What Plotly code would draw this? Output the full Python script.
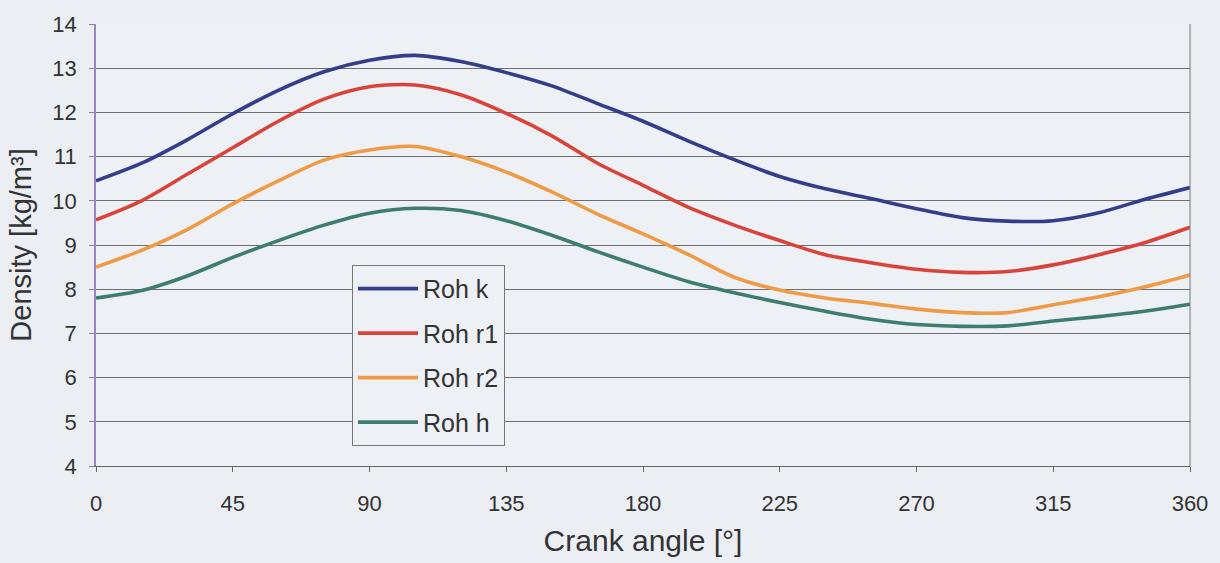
import plotly.graph_objects as go

# Crank angle samples (degrees)
crank_angle = [0, 15, 30, 45, 60, 75, 90, 105, 120, 135, 150, 165, 180,
               195, 210, 225, 240, 255, 270, 285, 300, 315, 330, 345, 360]

# Densities in kg/m³ for each working space
roh_k = [10.45, 10.85, 11.38, 11.97, 12.50, 12.92, 13.18, 13.29, 13.15, 12.90,
         12.60, 12.20, 11.80, 11.35, 10.93, 10.55, 10.27, 10.05, 9.82, 9.62,
         9.54, 9.55, 9.73, 10.03, 10.30]
roh_r1 = [9.57, 10.00, 10.60, 11.20, 11.80, 12.30, 12.58, 12.62, 12.40, 11.98,
          11.47, 10.85, 10.35, 9.85, 9.45, 9.10, 8.78, 8.60, 8.45, 8.38,
          8.40, 8.55, 8.78, 9.05, 9.40]
roh_r2 = [8.50, 8.88, 9.35, 9.93, 10.45, 10.92, 11.15, 11.23, 11.00, 10.65,
          10.20, 9.70, 9.25, 8.78, 8.27, 7.98, 7.80, 7.68, 7.55, 7.47,
          7.47, 7.65, 7.83, 8.05, 8.32]
roh_h = [7.80, 7.97, 8.30, 8.72, 9.10, 9.45, 9.72, 9.83, 9.78, 9.55,
         9.22, 8.85, 8.50, 8.17, 7.92, 7.70, 7.50, 7.32, 7.20, 7.16,
         7.17, 7.28, 7.38, 7.50, 7.66]

series = [
    ("Roh k", roh_k, "#333d8a"),
    ("Roh r1", roh_r1, "#d9433a"),
    ("Roh r2", roh_r2, "#ef9a45"),
    ("Roh h", roh_h, "#3e7b70"),
]

x_ticks = [0, 45, 90, 135, 180, 225, 270, 315, 360]
y_ticks = [4, 5, 6, 7, 8, 9, 10, 11, 12, 13, 14]

fig = go.Figure()
for name, values, color in series:
    fig.add_trace(go.Scatter(
        x=crank_angle, y=values, name=name, mode="lines", legendgroup=name,
        line=dict(color=color, width=3.6, shape="spline", smoothing=0.8),
    ))

font_family = "Liberation Sans, Arial, sans-serif"

fig.update_layout(
    width=1220, height=563,
    margin=dict(l=96, r=29, t=20, b=97),
    paper_bgcolor="#ebeef3",
    plot_bgcolor="#edf0f5",
    font=dict(family=font_family, color="#333333"),
    showlegend=True,
    legend=dict(
        x=0.234, y=0.455, xanchor="left", yanchor="top",
        bgcolor="#edf0f5", bordercolor="#777777", borderwidth=1,
        font=dict(size=25, color="#333333"),
        itemwidth=60, tracegroupgap=9, traceorder="grouped",
        entrywidth=108,
    ),
    xaxis=dict(
        range=[0, 360], tickvals=x_ticks, ticktext=[str(v) for v in x_ticks],
        showgrid=False, zeroline=False,
        showline=True, linecolor="#666666", linewidth=1, mirror=False,
        ticks="outside", ticklen=5, tickcolor="#666666",
        ticklabelstandoff=13,
        tickfont=dict(size=22, color="#333333"),
        title=dict(text="Crank angle [°]", font=dict(size=30, color="#333333"), standoff=14),
    ),
    yaxis=dict(
        range=[4, 14], tickvals=y_ticks, ticktext=[str(v) for v in y_ticks],
        showgrid=True, gridcolor="#6e6e6e", gridwidth=1, zeroline=False,
        showline=True, linecolor="#9a86c4", linewidth=1.5,
        ticks="outside", ticklen=5, tickcolor="#888888",
        ticklabelstandoff=8,
        tickfont=dict(size=22, color="#333333"),
        title=dict(text="Density [kg/m³]", font=dict(size=29, color="#333333"), standoff=12),
    ),
)

# right-hand border of the plotting area
fig.add_shape(type="line", xref="paper", yref="paper", x0=1, x1=1, y0=0, y1=1,
              line=dict(color="#777777", width=1))

fig.write_html("out.html")
